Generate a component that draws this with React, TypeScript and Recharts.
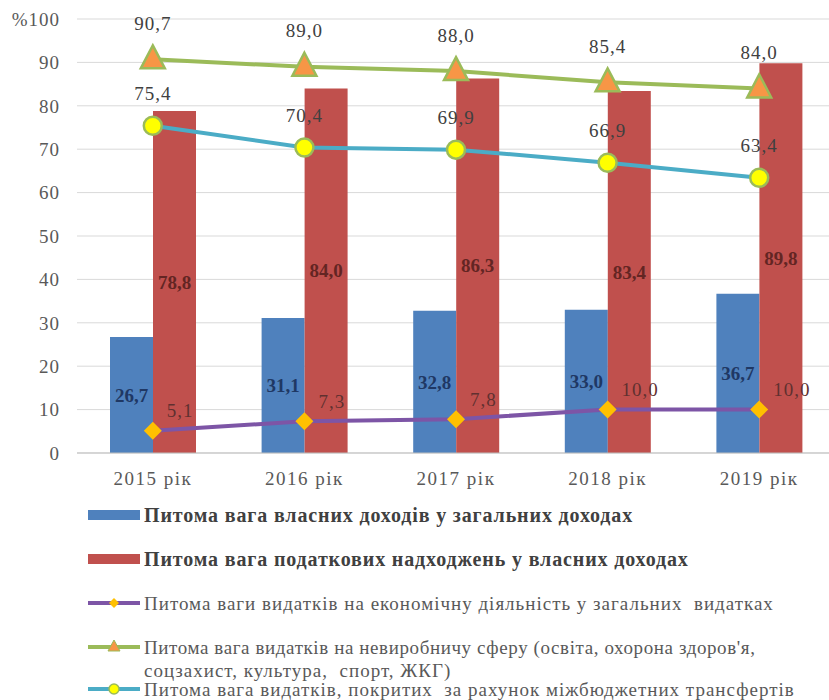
import { ComposedChart, Bar, Line, XAxis, YAxis, CartesianGrid, LabelList } from "recharts";

const years = ["2015 рік", "2016 рік", "2017 рік", "2018 рік", "2019 рік"];
const ownIncomeShare = [26.7, 31.1, 32.8, 33.0, 36.7];
const taxIncomeShare = [78.8, 84.0, 86.3, 83.4, 89.8];
const economyShare = [5.1, 7.3, 7.8, 10.0, 10.0];
const socialShare = [90.7, 89.0, 88.0, 85.4, 84.0];
const transferShare = [75.4, 70.4, 69.9, 66.9, 63.4];
const yTicks = [0, 10, 20, 30, 40, 50, 60, 70, 80, 90, 100];

const seriesNames = [
  "Питома вага власних доходів у загальних доходах",
  "Питома вага податкових надходжень у власних доходах",
  "Питома ваги видатків на економічну діяльність у загальних  видатках",
  "Питома вага видатків на невиробничу сферу (освіта, охорона здоров'я,",
  "соцзахист, культура,  спорт, ЖКГ)",
  "Питома вага видатків, покритих  за рахунок міжбюджетних трансфертів",
];

const data = years.map((year, i) => ({
  year,
  own: ownIncomeShare[i],
  tax: taxIncomeShare[i],
  economy: economyShare[i],
  social: socialShare[i],
  transfer: transferShare[i],
}));

const FONT = "Liberation Serif";
const BLUE = "#4F81BD";
const RED = "#C0504D";
const PURPLE = "#7D55A6";
const GREEN = "#9BBB59";
const CYAN = "#4BACC6";

const fmt = (v: any) => Number(v).toFixed(1).replace(".", ",");

const Diamond = (props: any) => {
  const { cx, cy } = props;
  if (cx == null || cy == null) return null;
  const r = 9;
  return (
    <polygon
      points={`${cx},${cy - r} ${cx + r},${cy} ${cx},${cy + r} ${cx - r},${cy}`}
      fill="#FFC000"
    />
  );
};

const Triangle = (props: any) => {
  const { cx, cy } = props;
  if (cx == null || cy == null) return null;
  return (
    <polygon
      points={`${cx},${cy - 14} ${cx + 12},${cy + 9} ${cx - 12},${cy + 9}`}
      fill="#F79646"
      stroke={GREEN}
      strokeWidth={2.5}
    />
  );
};

const Circle = (props: any) => {
  const { cx, cy } = props;
  if (cx == null || cy == null) return null;
  return <circle cx={cx} cy={cy} r={9} fill="#FFFF00" stroke={GREEN} strokeWidth={2.5} />;
};

const lineLabel = (dx: number, dy: number, anchor: string, color: string) => (props: any) => {
  const x = props.viewBox?.x ?? props.x;
  const y = props.viewBox?.y ?? props.y;
  if (x == null || y == null) return null;
  return (
    <text
      x={x + dx}
      y={y + dy}
      textAnchor={anchor}
      dominantBaseline="central"
      fontFamily={FONT}
      fontSize={19}
      letterSpacing={1}
      fill={color}
    >
      {fmt(props.value)}
    </text>
  );
};

function LegendIcon({ index, y }: { index: number; y: number }) {
  if (index < 2) {
    return <rect x={88} y={y - 5} width={52} height={10} fill={index === 0 ? BLUE : RED} />;
  }
  const color = [PURPLE, GREEN, CYAN][index - 2];
  return (
    <g>
      <line x1={88} x2={140} y1={y} y2={y} stroke={color} strokeWidth={4} />
      {index === 2 && (
        <polygon points={`114,${y - 5} 119,${y} 114,${y + 5} 109,${y}`} fill="#FFC000" />
      )}
      {index === 3 && (
        <polygon points={`114,${y - 7} 120,${y + 4} 108,${y + 4}`} fill="#F79646" stroke={GREEN} />
      )}
      {index === 4 && <circle cx={114} cy={y} r={5} fill="#FFFF00" stroke={GREEN} strokeWidth={1.5} />}
    </g>
  );
}

const legendRows = [
  { text: 0, icon: 0, y: 25, bold: true, spacing: 0.86 },
  { text: 1, icon: 1, y: 69, bold: true, spacing: 0.86 },
  { text: 2, icon: 2, y: 113, bold: false, spacing: 1 },
  { text: 3, icon: 3, y: 157, bold: false, spacing: 0.6 },
  { text: 4, icon: -1, y: 180, bold: false, spacing: 1 },
  { text: 5, icon: 4, y: 199, bold: false, spacing: 1 },
];

export default function App() {
  return (
    <div
      style={{
        position: "absolute",
        left: 0,
        top: 0,
        width: 829,
        height: 700,
        overflow: "hidden",
        background: "#fff",
        fontFamily: FONT,
      }}
    >
      <ComposedChart
        width={842}
        height={500}
        data={data}
        margin={{ top: 19, right: 7, left: 0, bottom: 7 }}
        barGap={0}
      >
        <CartesianGrid vertical={false} stroke="#d9d9d9" />
        <XAxis
          dataKey="year"
          height={40}
          tickLine={false}
          tickSize={0}
          tickMargin={19}
          axisLine={{ stroke: "#bfbfbf" }}
          tick={{ fontSize: 19, fill: "#595959", fontFamily: FONT, letterSpacing: 1.5 }}
        />
        <YAxis
          width={77}
          domain={[0, 100]}
          ticks={yTicks}
          interval={0}
          tickLine={false}
          axisLine={false}
          tickSize={0}
          tickMargin={17}
          tickFormatter={(v) => (v === 100 ? "%100" : String(v))}
          tick={{ fontSize: 19, fill: "#595959", fontFamily: FONT, letterSpacing: 1 }}
        />
        <Bar dataKey="own" fill={BLUE} barSize={43} isAnimationActive={false}>
          <LabelList
            dataKey="own"
            position="center"
            formatter={fmt}
            fill="#1F3864"
            fontSize={19}
            fontWeight="bold"
            fontFamily={FONT}
          />
        </Bar>
        <Bar dataKey="tax" fill={RED} barSize={43} isAnimationActive={false}>
          <LabelList
            dataKey="tax"
            position="center"
            formatter={fmt}
            fill="#632523"
            fontSize={19}
            fontWeight="bold"
            fontFamily={FONT}
          />
        </Bar>
        <Line
          dataKey="economy"
          stroke={PURPLE}
          strokeWidth={4}
          dot={<Diamond />}
          isAnimationActive={false}
        >
          <LabelList dataKey="economy" content={lineLabel(14, -20, "start", "#603030")} />
        </Line>
        <Line
          dataKey="social"
          stroke={GREEN}
          strokeWidth={4}
          dot={<Triangle />}
          isAnimationActive={false}
        >
          <LabelList dataKey="social" content={lineLabel(0, -36, "middle", "#404040")} />
        </Line>
        <Line
          dataKey="transfer"
          stroke={CYAN}
          strokeWidth={4}
          dot={<Circle />}
          isAnimationActive={false}
        >
          <LabelList dataKey="transfer" content={lineLabel(0, -32, "middle", "#404040")} />
        </Line>
      </ComposedChart>
      <svg
        width={829}
        height={210}
        style={{ position: "absolute", left: 0, top: 490 }}
      >
        {legendRows.map((row) => (
          <g key={row.text}>
            {row.icon >= 0 && <LegendIcon index={row.icon} y={row.y} />}
            <text
              x={144}
              y={row.y}
              dominantBaseline="central"
              fontFamily={FONT}
              fontSize={row.bold ? 20 : 19}
              fontWeight={row.bold ? "bold" : "normal"}
              letterSpacing={row.spacing}
              fill={row.bold ? "#404040" : "#595959"}
              style={{ whiteSpace: "pre" }}
            >
              {seriesNames[row.text]}
            </text>
          </g>
        ))}
      </svg>
    </div>
  );
}
